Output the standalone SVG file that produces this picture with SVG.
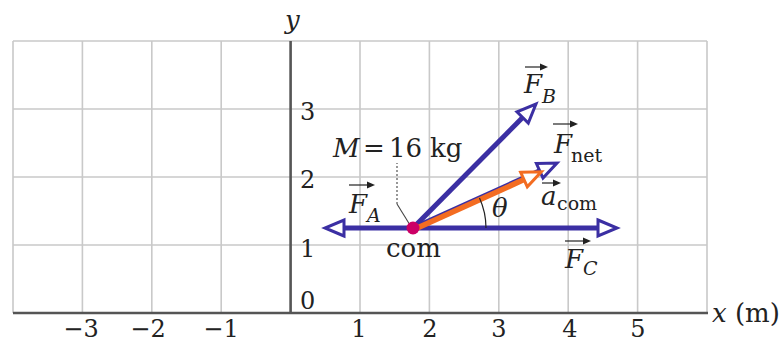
<svg xmlns="http://www.w3.org/2000/svg" width="783" height="344" viewBox="0 0 783 344">
<style>
.grid{stroke:#c9c9c9;stroke-width:1.6;fill:none}
.axis{stroke:#555;stroke-width:2.6;fill:none}
.t{font-family:"DejaVu Serif","Liberation Serif",serif;font-size:26px;fill:#222}
.n{font-family:"DejaVu Serif","Liberation Serif",serif;font-size:24px;fill:#222}
.it{font-style:italic}
.sub{font-family:"DejaVu Serif","Liberation Serif",serif;font-size:19px;fill:#222}
.vec{stroke:#3b2fa3;stroke-width:5;fill:none}
.acc{stroke:#f36c21;stroke-width:5.5;fill:none}
.ov{stroke:#222;stroke-width:1.2;fill:none}
</style>
<defs>
<marker id="hb" markerUnits="userSpaceOnUse" viewBox="-3 -12 26 24" markerWidth="26" markerHeight="24" refX="0" refY="0" orient="auto" overflow="visible">
<path d="M0,-8 L19,0 L0,8 Z" fill="#fff" stroke="#3b2fa3" stroke-width="3" stroke-linejoin="miter"/>
</marker>
<marker id="ho" markerUnits="userSpaceOnUse" viewBox="-3 -12 26 24" markerWidth="26" markerHeight="24" refX="0" refY="0" orient="auto" overflow="visible">
<path d="M0,-8 L19,0 L0,8 Z" fill="#fff" stroke="#f36c21" stroke-width="3" stroke-linejoin="miter"/>
</marker>
<marker id="hs" markerUnits="userSpaceOnUse" viewBox="0 -4 8 8" markerWidth="8" markerHeight="8" refX="1" refY="0" orient="auto" overflow="visible">
<path d="M0,-3.5 L8,0 L0,3.5 Z" fill="#222"/>
</marker>
</defs>
<rect width="783" height="344" fill="#fff"/>
<g id="grid" class="grid">
<path d="M13,41 H707 M13,109 H707 M13,177 H707 M13,245 H707"/>
<path d="M13,41 V313 M82.4,41 V313 M151.8,41 V313 M221.2,41 V313 M360,41 V313 M429.4,41 V313 M498.8,41 V313 M568.2,41 V313 M637.6,41 V313 M707,41 V313"/>
</g>
<g id="axes" class="axis">
<path d="M13,313 H708"/>
<path d="M290.6,41 V314"/>
</g>
<g id="axis-labels">
<text class="t it" x="285" y="29">y</text>
<text class="t" x="712" y="322"><tspan class="it">x</tspan> (m)</text>
<text class="n" x="300" y="120">3</text>
<text class="n" x="300" y="188">2</text>
<text class="n" x="300" y="257">1</text>
<text class="n" x="300" y="309">0</text>
<g text-anchor="middle">
<text class="n" x="81" y="337">−3</text>
<text class="n" x="148" y="337">−2</text>
<text class="n" x="221" y="337">−1</text>
<text class="n" x="359" y="337">1</text>
<text class="n" x="430" y="337">2</text>
<text class="n" x="499" y="337">3</text>
<text class="n" x="570" y="337">4</text>
<text class="n" x="638" y="337">5</text>
</g>
</g>
<g id="connectors">
<path id="FA" class="vec" d="M413,228 L344,228" marker-end="url(#hb)"/>
<path id="FC" class="vec" d="M413,228 L598,228" marker-end="url(#hb)"/>
<path id="FB" class="vec" d="M413,228 L522.6,117.5" marker-end="url(#hb)"/>
<path id="Fnet" class="vec" d="M413,228 L539.7,170.8" marker-end="url(#hb)"/>
<path id="acom" class="acc" d="M414,229.5 L524,179.6" marker-end="url(#ho)"/>
<path id="theta-arc" d="M486,228 A73,73 0 0 0 479.5,197.9" stroke="#222" stroke-width="1.2" fill="none"/>
<path id="leader" d="M410,225 L397,204" stroke="#444" stroke-width="1.1" fill="none"/>
<path id="leader-dots" d="M397,204 L397,163" stroke="#444" stroke-width="1.1" stroke-dasharray="2,2" fill="none"/>
</g>
<g id="com">
<circle cx="413" cy="228" r="6.5" fill="#cc0066"/>
<text class="t" x="386" y="257">com</text>
</g>
<g id="mass-label">
<text class="t it" x="333" y="157">M</text>
<text class="t" x="363" y="157">=</text>
<text class="t" x="389" y="157">16</text>
<text class="t" x="430" y="157">kg</text>
</g>
<g id="label-FA">
<path class="ov" d="M349,185 H368" marker-end="url(#hs)"/>
<text class="t it" x="349" y="213">F</text>
<text class="sub it" x="367" y="222">A</text>
</g>
<g id="label-FB">
<path class="ov" d="M525,67 H541" marker-end="url(#hs)"/>
<text class="t it" x="524" y="93">F</text>
<text class="sub it" x="542" y="103">B</text>
</g>
<g id="label-Fnet">
<path class="ov" d="M553,124 H571" marker-end="url(#hs)"/>
<text class="t it" x="554" y="153">F</text>
<text class="sub" x="571" y="162">net</text>
</g>
<g id="label-acom">
<path class="ov" d="M542,183 H554" marker-end="url(#hs)"/>
<text class="t it" x="541" y="205">a</text>
<text class="sub" x="557" y="210">com</text>
</g>
<g id="label-FC">
<path class="ov" d="M565,241 H584" marker-end="url(#hs)"/>
<text class="t it" x="565" y="268">F</text>
<text class="sub it" x="583" y="275">C</text>
</g>
<g id="label-theta">
<text class="t it" x="492" y="217">θ</text>
</g>
</svg>
